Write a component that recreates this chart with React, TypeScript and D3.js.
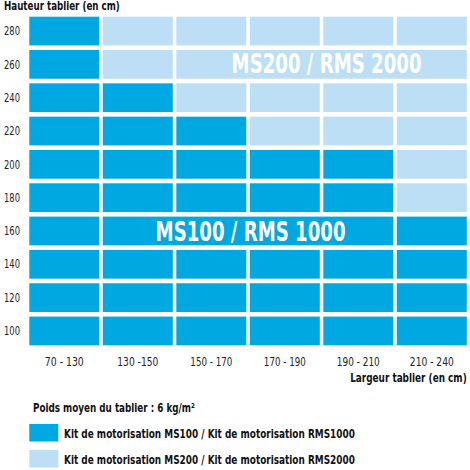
import React, { useLayoutEffect, useRef, useState } from "react";
import * as d3 from "d3";

const widthRanges = ["70 - 130", "130 -150", "150 - 170", "170 - 190", "190 - 210", "210 - 240"];
const heights = [280, 260, 240, 220, 200, 180, 160, 140, 120, 100];
// number of width columns (from the left) served by MS100 for each height
const ms100Columns = [1, 1, 2, 3, 5, 5, 6, 6, 6, 6];
const bannerLabels = ["MS200 / RMS 2000", "MS100 / RMS 1000"];
const bannerHeights = [260, 160];
const bannerFromCol = [2, 1];
const bannerToCol = [5, 4];
const legendLabels = [
  "Kit de motorisation MS100 / Kit de motorisation RMS1000",
  "Kit de motorisation MS200 / Kit de motorisation RMS2000",
];

const DARK = "#00a8e1";
const LIGHT = "#bcdff5";
const FONT = "'DejaVu Sans Condensed', 'DejaVu Sans', sans-serif";

const xLabelWidths = [39, 41, 42, 42, 43, 44];

type FitProps = {
  x: number;
  y: number;
  width: number;
  anchor?: "start" | "middle" | "end";
  size: number;
  bold?: boolean;
  fill: string;
  children: string;
};

function FitText({ x, y, width, anchor = "start", size, bold, fill, children }: FitProps) {
  const ref = useRef<SVGTextElement>(null);
  const [k, setK] = useState(1);
  useLayoutEffect(() => {
    if (ref.current) {
      const w = ref.current.getComputedTextLength();
      if (w > 0) setK(width / w);
    }
  }, [width, children, size]);
  return (
    <text
      ref={ref}
      transform={`translate(${x},${y}) scale(${k},1)`}
      textAnchor={anchor}
      fontFamily={FONT}
      fontWeight={bold ? "bold" : "normal"}
      fontSize={size}
      fill={fill}
    >
      {children}
    </text>
  );
}

export default function App() {
  const W = 470;
  const H = 470;
  const x = d3.scaleBand<number>().domain(d3.range(widthRanges.length)).range([29.3, 466.8]).paddingInner(0.0476).paddingOuter(0);
  const y = d3.scaleBand<number>().domain(heights).range([16.7, 345.3]).paddingInner(0.138).paddingOuter(0);
  const bw = x.bandwidth();
  const bh = y.bandwidth();

  const isMerged = (h: number, c: number) =>
    bannerHeights.some((bh2, i) => bh2 === h && c >= bannerFromCol[i] && c <= bannerToCol[i]);

  const cells: JSX.Element[] = [];
  heights.forEach((h, r) => {
    widthRanges.forEach((_, c) => {
      if (isMerged(h, c)) return;
      cells.push(
        <rect key={`${h}-${c}`} x={x(c)} y={y(h)} width={bw} height={bh} fill={c < ms100Columns[r] ? DARK : LIGHT} />
      );
    });
  });

  const bannerDx = [5, 2.5];
  const bannerDy = [8.4, 10.5];
  const banners = bannerLabels.map((lab, i) => {
    const h = bannerHeights[i];
    const r = heights.indexOf(h);
    const x0 = x(bannerFromCol[i])!;
    const x1 = x(bannerToCol[i])! + bw;
    const fill = bannerFromCol[i] < ms100Columns[r] ? DARK : LIGHT;
    return (
      <g key={lab}>
        <rect x={x0} y={y(h)} width={x1 - x0} height={bh} fill={fill} />
        <FitText x={(x0 + x1) / 2 + bannerDx[i]} y={y(h)! + bh / 2 + bannerDy[i]} anchor="middle" fill="#fff" bold size={26} width={190}>
          {lab}
        </FitText>
      </g>
    );
  });

  return (
    <svg width={W} height={H} style={{ position: "absolute", left: 0, top: 0, background: "#fff" }}>
      <FitText x={4} y={10} bold size={12} fill="#111" width={116}>
        Hauteur tablier (en cm)
      </FitText>
      {cells}
      {banners}
      {heights.map((h) => (
        <FitText key={h} x={4} y={y(h)! + bh / 2 + 4.2} size={12} fill="#222" width={16}>
          {String(h)}
        </FitText>
      ))}
      {widthRanges.map((w, c) => (
        <FitText key={w} x={x(c)! + bw / 2} y={366} anchor="middle" size={12} fill="#222" width={xLabelWidths[c]}>
          {w}
        </FitText>
      ))}
      <FitText x={466.7} y={381.5} anchor="end" bold size={12} fill="#111" width={116.7}>
        Largeur tablier (en cm)
      </FitText>
      <FitText x={33} y={411.5} bold size={12} fill="#111" width={162}>
        Poids moyen du tablier : 6 kg/m²
      </FitText>
      {legendLabels.map((lab, i) => (
        <g key={lab}>
          <rect x={29.3} y={424 + i * 26} width={29} height={17.5} fill={i === 0 ? DARK : LIGHT} />
          <FitText x={64} y={437.5 + i * 26.5} bold size={12} fill="#111" width={291}>
            {lab}
          </FitText>
        </g>
      ))}
    </svg>
  );
}
